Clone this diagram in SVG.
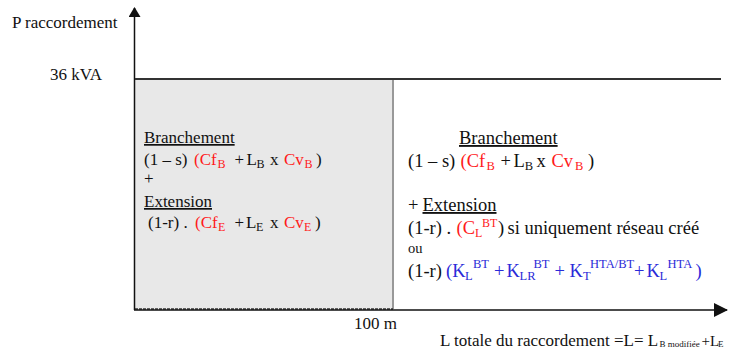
<svg xmlns="http://www.w3.org/2000/svg" width="734" height="349" viewBox="0 0 734 349">
<defs>
<style>
text{font-family:"Liberation Serif","Times New Roman",serif;font-size:17px;fill:#111}
.R text{font-size:18.5px}
.r{fill:#ff1a1a}
.b{fill:#2a2ad8}
.s{font-size:12px}
.R .s{font-size:12.5px}
.u{text-decoration:underline}
.ax{stroke:#111;stroke-width:1.5;fill:none}
</style>
<marker id="ah" markerWidth="10" markerHeight="12" refX="9" refY="6" orient="auto" markerUnits="userSpaceOnUse"><path d="M0,0 L10,6 L0,12 z" fill="#111"/></marker>
<marker id="ah2" markerWidth="14" markerHeight="14" refX="13" refY="7" orient="auto" markerUnits="userSpaceOnUse"><path d="M0,0 L14,7 L0,14 z" fill="#111"/></marker>
</defs>
<rect id="zone" x="135" y="79" width="258" height="230" fill="#e8e8e8"/>
<line x1="393" y1="79" x2="393" y2="309" stroke="#999" stroke-width="2"/>
<line x1="135" y1="309" x2="393" y2="309" stroke="#333" stroke-width="1.5" stroke-dasharray="3,1"/>
<g id="connectors">
<line class="ax" x1="134.5" y1="310" x2="134.5" y2="8" marker-end="url(#ah)"/>
<line class="ax" x1="134" y1="310" x2="727" y2="310" marker-end="url(#ah2)"/>
<line x1="135" y1="79" x2="721" y2="79" stroke="#333" stroke-width="2"/>
</g>
<g id="ylabel"><text x="12" y="28">P raccordement</text></g>
<g id="kva"><text x="50" y="80">36 kVA</text></g>
<g id="left">
<text x="144" y="143" class="u">Branchement</text>
<text y="165"><tspan x="144">(1 – s)</tspan><tspan x="194" class="r">(Cf</tspan><tspan x="217.5" y="168" class="s r">B</tspan><tspan x="234.5" y="165">+</tspan><tspan x="246.5">L</tspan><tspan x="256.5" y="168" class="s">B</tspan><tspan x="270" y="165">x</tspan><tspan x="284" class="r">Cv</tspan><tspan x="304.5" y="168" class="s r">B</tspan><tspan x="316" y="165">)</tspan></text>
<text x="144" y="184">+</text>
<text x="144" y="207" class="u">Extension</text>
<text y="228"><tspan x="148">(1-r) .</tspan><tspan x="195" class="r">(Cf</tspan><tspan x="218" y="231" class="s r">E</tspan><tspan x="234.5" y="228">+</tspan><tspan x="246">L</tspan><tspan x="256" y="231" class="s">E</tspan><tspan x="270" y="228">x</tspan><tspan x="284" class="r">Cv</tspan><tspan x="304" y="231" class="s r">E</tspan><tspan x="315" y="228">)</tspan></text>
</g>
<g id="right" class="R">
<text x="459" y="144" class="u">Branchement</text>
<text y="167"><tspan x="408">(1 – s)</tspan><tspan x="460.5" class="r">(Cf</tspan><tspan x="486.5" y="170" class="s r">B</tspan><tspan x="500.5" y="167">+</tspan><tspan x="513.5">L</tspan><tspan x="524.8" y="170" class="s">B</tspan><tspan x="536.5" y="167">x</tspan><tspan x="551.5" class="r">Cv</tspan><tspan x="575" y="170" class="s r">B</tspan><tspan x="588" y="167">)</tspan></text>
<text y="211"><tspan x="408">+</tspan><tspan x="422.5" class="u">Extension</tspan></text>
<text y="234"><tspan x="408">(1-r) .</tspan><tspan x="456.5" class="r">(C</tspan><tspan x="475" y="237" class="s r" style="font-size:12px">L</tspan><tspan x="482" y="227" class="s r" style="font-size:12px">BT</tspan><tspan x="498" y="234">)</tspan><tspan x="507.5">si uniquement réseau créé</tspan></text>
<text x="408" y="253" style="font-size:14.5px">ou</text>
<text y="277" class="b"><tspan x="408" style="fill:#111">(1-r)</tspan><tspan x="446">(K</tspan><tspan x="465" y="280" class="s">L</tspan><tspan x="473" y="268" class="s">BT</tspan><tspan x="494" y="277">+</tspan><tspan x="506.5">K</tspan><tspan x="519.5" y="280" class="s">LR</tspan><tspan x="533.5" y="268" class="s">BT</tspan><tspan x="554.5" y="277">+</tspan><tspan x="569.5">K</tspan><tspan x="583" y="280" class="s">T</tspan><tspan x="590" y="268" class="s">HTA/BT</tspan><tspan x="634" y="277">+</tspan><tspan x="646.5">K</tspan><tspan x="659.5" y="280" class="s">L</tspan><tspan x="667.5" y="268" class="s">HTA</tspan><tspan x="695.5" y="277">)</tspan></text>
</g>
<g id="xlabels">
<text x="354" y="329">100 m</text>
<text y="346"><tspan x="440">L totale du raccordement =L= L</tspan><tspan x="659.5" y="347" style="font-size:9px">B modifiée</tspan><tspan x="701.5" y="346" style="font-size:15px">+L</tspan><tspan x="718" y="347" style="font-size:9px">E</tspan></text>
</g>
</svg>
